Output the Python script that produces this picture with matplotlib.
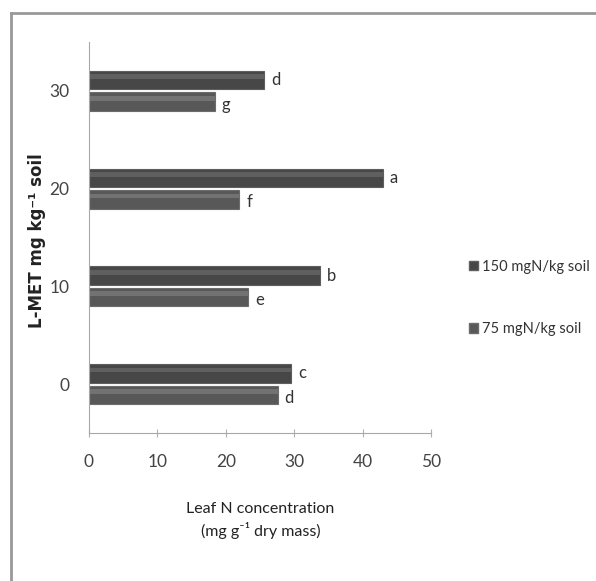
import matplotlib
matplotlib.use("Agg")
import matplotlib.pyplot as plt
from matplotlib.lines import Line2D
from matplotlib.patches import Patch
import numpy as np

plt.rcParams['font.family'] = ['Lato', 'DejaVu Sans']

# data
levels = ["0", "10", "20", "30"]
n150 = [29.6, 33.8, 43.0, 25.6]
n75 = [27.6, 23.3, 22.0, 18.4]
let150 = ["c", "b", "a", "d"]
let75 = ["d", "e", "f", "g"]
series = ["150 mgN/kg soil", "75 mgN/kg soil"]

fig = plt.figure(figsize=(5.96, 5.81), dpi=100)
ax = fig.add_axes([0.1493, 0.2547, 0.5739, 0.673])

y = np.arange(len(levels))
h = 0.19
off = 0.11
ax.barh(y + off, n150, height=h, color="#474747", edgecolor="#5e5e5e", linewidth=0.8)
ax.barh(y - off, n75, height=h, color="#585858", edgecolor="#6c6c6c", linewidth=0.8)
# soft highlight to mimic the bevel look
ax.barh(y + off + 0.035, n150, height=0.05, color="#5f5f5f", linewidth=0)
ax.barh(y - off + 0.035, n75, height=0.05, color="#727272", linewidth=0)

for yi, v, t in zip(y, n150, let150):
    ax.text(v + 1.0, yi + off, t, va="center", ha="left", fontsize=12, color="#333333")
for yi, v, t in zip(y, n75, let75):
    ax.text(v + 1.0, yi - off - 0.03, t, va="center", ha="left", fontsize=12, color="#333333")

ax.set_xlim(0, 50)
ax.set_ylim(-0.5, 3.5)
ax.set_xticks([0, 10, 20, 30, 40, 50])
ax.set_yticks(y)
ax.set_yticklabels(levels)
for s in ["top", "right"]:
    ax.spines[s].set_visible(False)
for s in ["left", "bottom"]:
    ax.spines[s].set_color("#a8a8a8")
ax.tick_params(axis="x", direction="inout", length=6, color="#b0b0b0", labelsize=12.5,
               labelcolor="#444444", pad=12)
ax.tick_params(axis="y", length=0, labelsize=12.5, labelcolor="#444444", pad=14)

fig.text(0.437, 0.104, "Leaf N concentration\n(mg g\u207b\u00b9 dry mass)", ha="center", va="center",
         fontsize=11.5, color="#222222", linespacing=1.45)
fig.text(0.062, 0.585, "L-MET mg kg\u207b\u00b9 soil", rotation=90, ha="center", va="center",
         fontsize=12, fontweight="bold", color="#222222", family="DejaVu Sans")

handles = [Patch(facecolor="#474747", edgecolor="#5e5e5e"),
           Patch(facecolor="#585858", edgecolor="#6c6c6c")]
fig.legend(handles, series, loc="center left", bbox_to_anchor=(0.765, 0.487), frameon=False,
           fontsize=10.5, handlelength=0.6, handleheight=0.6, handletextpad=0.3,
           labelspacing=3.3, labelcolor="#333333")

# outer frame
fig.add_artist(Line2D([0.019, 0.019], [0, 0.978], transform=fig.transFigure, color="#999999", lw=2))
fig.add_artist(Line2D([0.019, 1.0], [0.978, 0.978], transform=fig.transFigure, color="#999999", lw=2))

fig.savefig("out.png", dpi=100)
